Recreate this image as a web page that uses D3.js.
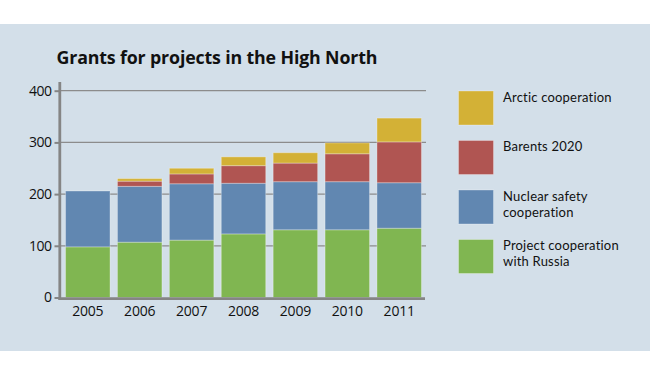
<!DOCTYPE html>
<html><head><meta charset="utf-8">
<script src="https://cdn.jsdelivr.net/npm/d3@7/dist/d3.min.js"></script>
<style>body{margin:0;background:#fff;}svg{display:block;}</style>
</head><body>
<svg id="c" width="650" height="384"></svg>
<script>
const years = ["2005","2006","2007","2008","2009","2010","2011"];
const russia = [98,107,111,123,131,131,134];
const nuclear = [108,108,109,98,93,93,88];
const barents = [0,10,19,34,36,54,79];
const arctic = [0,5,11,17,20,21,46];
const yTicks = [0,100,200,300,400];
const seriesNames = ["Project cooperation with Russia","Nuclear safety cooperation","Barents 2020","Arctic cooperation"];
const legendLines = [["Arctic cooperation"],["Barents 2020"],["Nuclear safety","cooperation"],["Project cooperation","with Russia"]];
const colors = ["#80b651","#6187b1","#b05552","#d3b136"];
const title = "Grants for projects in the High North";

const keys = ["russia","nuclear","barents","arctic"];
const table = years.map((y,i)=>({year:y,russia:russia[i],nuclear:nuclear[i],barents:barents[i],arctic:arctic[i]}));
const stack = d3.stack().keys(keys)(table);

const svg = d3.select("#c");
const font = "'Open Sans', sans-serif";
const lfont = "Lato, sans-serif";
svg.append("rect").attr("x",0).attr("y",24).attr("width",650).attr("height",327).attr("fill","#d3dfe9");

svg.append("text").attr("x",56.5).attr("y",63.5).attr("font-family",font).attr("font-weight","bold")
  .attr("font-size",17.8).attr("fill","#111").attr("letter-spacing",-0.15).text(title);

const x = d3.scaleBand().domain(years).range([60,427]).paddingInner(0.143).paddingOuter(0.107);
const y = d3.scaleLinear().domain([0,400]).range([297.5,90.7]);

// gridlines
svg.append("g").selectAll("line").data(yTicks.filter(d=>d>0)).join("line")
  .attr("x1",60).attr("x2",426).attr("y1",d=>y(d)).attr("y2",d=>y(d))
  .attr("stroke","#8c8c8c").attr("stroke-width",1.2);

// bars
svg.append("g").selectAll("g").data(stack).join("g").attr("fill",(d,i)=>colors[i])
  .selectAll("rect").data(d=>d.filter(s=>s[1]-s[0]>0)).join("rect")
  .attr("x",d=>x(d.data.year)).attr("width",x.bandwidth())
  .attr("y",d=>y(d[1])).attr("height",d=>y(d[0])-y(d[1]))
  .attr("stroke","rgba(255,255,255,0.3)").attr("stroke-width",1);

// y axis
const ya = svg.append("g").attr("transform","translate(59.5,0)")
  .call(d3.axisLeft(y).tickValues(yTicks).tickSize(5).tickPadding(3).tickFormat(d3.format("d")));
ya.select(".domain").remove();
ya.selectAll(".tick line").attr("stroke","#858585").attr("stroke-width",2);
ya.selectAll(".tick text").attr("font-family",font).attr("font-size",14).attr("fill","#111").attr("letter-spacing",-0.5);
svg.append("line").attr("x1",59.8).attr("x2",59.8).attr("y1",82).attr("y2",300)
  .attr("stroke","#858585").attr("stroke-width",2.8);

// x axis
const xa = svg.append("g").attr("transform","translate(0,298.7)")
  .call(d3.axisBottom(x).tickSize(0).tickPadding(7));
xa.select(".domain").remove();
xa.selectAll(".tick text").attr("font-family",font).attr("font-size",14).attr("fill","#111").attr("letter-spacing",-0.2);
svg.append("line").attr("x1",58.5).attr("x2",425).attr("y1",298.7).attr("y2",298.7)
  .attr("stroke","#858585").attr("stroke-width",2.8);

// legend
const lg = svg.append("g");
const order = [3,2,1,0];
order.forEach((si,j)=>{
  const yy = 91 + j*49.5;
  lg.append("rect").attr("x",458.5).attr("y",yy).attr("width",35).attr("height",34)
    .attr("fill",colors[si]).attr("stroke","rgba(255,255,255,0.3)").attr("stroke-width",1);
  const t = lg.append("text").attr("x",503).attr("y",yy+10.8).attr("font-family",lfont)
      .attr("font-size",13).attr("fill","#111").attr("letter-spacing",0.2);
  legendLines[j].forEach((s,k)=>{
    t.append("tspan").attr("x",503).attr("dy",k===0?0:15.7).text(s);
  });
});
</script>
</body></html>
